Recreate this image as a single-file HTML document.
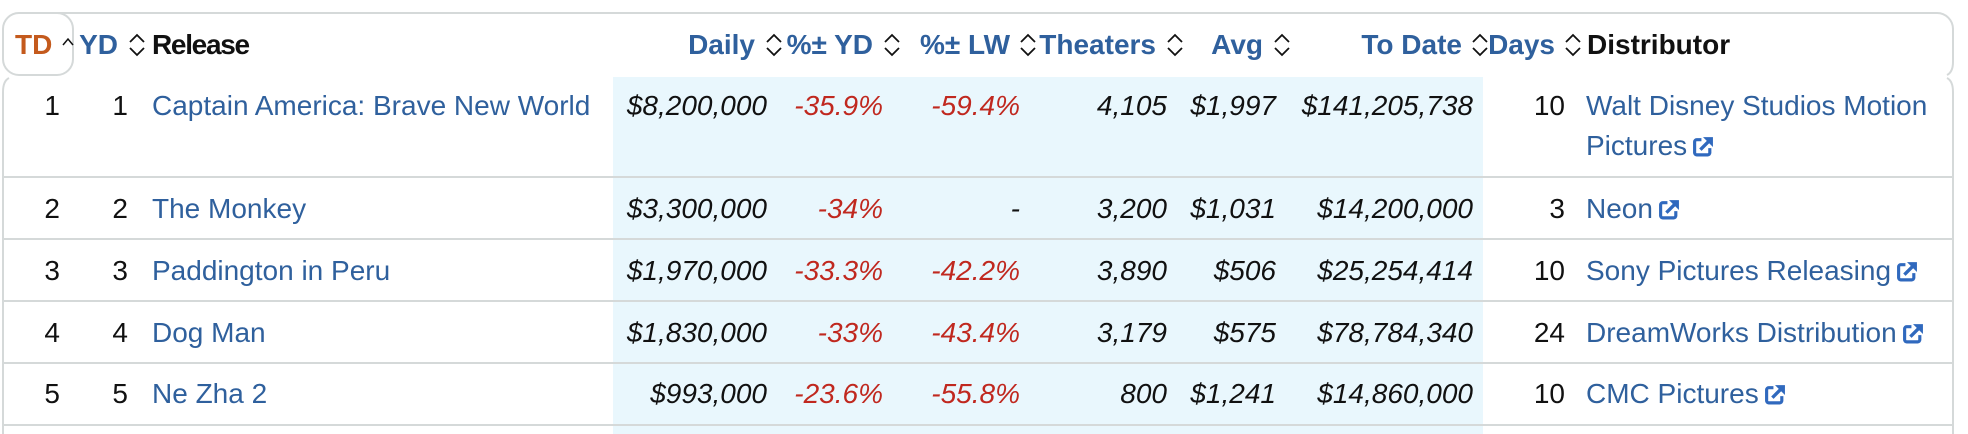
<!DOCTYPE html>
<html>
<head>
<meta charset="utf-8">
<style>
  html, body { margin:0; padding:0; background:#fff; }
  #wrap { position:relative; width:1968px; height:434px; overflow:hidden; background:#fff;
          font-family:"Liberation Sans", Arial, sans-serif; font-size:28px; }
  .t { position:absolute; line-height:40px; height:40px; white-space:nowrap; margin-top:1px; }
  .h { font-weight:bold; color:#2f609d; }
  .hk { font-weight:bold; color:#111; }
  .num { color:#111; }
  .it { font-style:italic; color:#111; }
  .red { font-style:italic; color:#c0281f; }
  .lnk { color:#2f609d; }
  .ext { display:inline-block; width:22px; height:21px; margin-left:5px; vertical-align:-2px; }
</style>
</head>
<body>
<div id="wrap">
  <!-- shaded columns -->
  <div style="position:absolute;left:613px;top:77px;width:870px;height:357px;background:#e9f7fd;"></div>

  <!-- borders -->
  <svg width="1968" height="434" style="position:absolute;left:0;top:0" fill="none" stroke="#d5d9d9" stroke-width="2">
    <path d="M 19 13 H 1937 A 16 16 0 0 1 1953 29 V 62 Q 1953 72 1947 75"/>
    <rect x="3" y="13" width="70" height="62" rx="16" ry="16" fill="#fff"/>
    <path d="M 1947 78 Q 1953 81 1953 92 V 434"/>
    <path d="M 9 78 Q 3 81 3 92 V 434"/>
    <line x1="3" y1="177" x2="1953" y2="177"/>
    <line x1="3" y1="239" x2="1953" y2="239"/>
    <line x1="3" y1="301" x2="1953" y2="301"/>
    <line x1="3" y1="363" x2="1953" y2="363"/>
    <line x1="3" y1="425" x2="1953" y2="425"/>
  </svg>

  <!-- sort icons -->
  <svg width="1968" height="80" style="position:absolute;left:0;top:0" fill="none" stroke="#111" stroke-width="1.8" stroke-linejoin="miter">
    <path d="M 63 45 L 68 39 L 73 45" stroke-width="1.5"/>
    <path d="M 130 42 L 137 35 L 144 42 M 130 48 L 137 55 L 144 48"/>
    <path transform="translate(637 0)" d="M 130 42 L 137 35 L 144 42 M 130 48 L 137 55 L 144 48"/>
    <path transform="translate(755 0)" d="M 130 42 L 137 35 L 144 42 M 130 48 L 137 55 L 144 48"/>
    <path transform="translate(891 0)" d="M 130 42 L 137 35 L 144 42 M 130 48 L 137 55 L 144 48"/>
    <path transform="translate(1038 0)" d="M 130 42 L 137 35 L 144 42 M 130 48 L 137 55 L 144 48"/>
    <path transform="translate(1145 0)" d="M 130 42 L 137 35 L 144 42 M 130 48 L 137 55 L 144 48"/>
    <path transform="translate(1343 0)" d="M 130 42 L 137 35 L 144 42 M 130 48 L 137 55 L 144 48"/>
    <path transform="translate(1436 0)" d="M 130 42 L 137 35 L 144 42 M 130 48 L 137 55 L 144 48"/>
  </svg>

  <!-- header -->
  <div class="t h" style="left:15px;top:24px;color:#c45a1d;">TD</div>
  <div class="t h" style="right:1850px;top:24px;">YD</div>
  <div class="t hk" style="left:152px;top:24px;letter-spacing:-1.3px;">Release</div>
  <div class="t h" style="right:1213px;top:24px;">Daily</div>
  <div class="t h" style="right:1095px;top:24px;">%± YD</div>
  <div class="t h" style="right:958px;top:24px;">%± LW</div>
  <div class="t h" style="right:812px;top:24px;">Theaters</div>
  <div class="t h" style="right:705px;top:24px;">Avg</div>
  <div class="t h" style="right:506px;top:24px;">To Date</div>
  <div class="t h" style="right:413px;top:24px;">Days</div>
  <div class="t hk" style="left:1587px;top:24px;">Distributor</div>

  <!-- row 1 -->
  <div class="t num" style="right:1908px;top:85px;">1</div>
  <div class="t num" style="right:1840px;top:85px;">1</div>
  <div class="t lnk" style="left:152px;top:85px;">Captain America: Brave New World</div>
  <div class="t it" style="right:1201px;top:85px;">$8,200,000</div>
  <div class="t red" style="right:1085px;top:85px;">-35.9%</div>
  <div class="t red" style="right:948px;top:85px;">-59.4%</div>
  <div class="t it" style="right:801px;top:85px;">4,105</div>
  <div class="t it" style="right:692px;top:85px;">$1,997</div>
  <div class="t it" style="right:495px;top:85px;">$141,205,738</div>
  <div class="t num" style="right:403px;top:85px;">10</div>
  <div class="t lnk" style="left:1586px;top:85px;">Walt Disney Studios Motion</div>
  <div class="t lnk" style="left:1586px;top:125px;">Pictures<svg class="ext" viewBox="0 0 21 20"><path d="M9 3.5 H4.5 A2 2 0 0 0 2.5 5.5 V16 A2 2 0 0 0 4.5 18 H15 A2 2 0 0 0 17 16 V11.5" fill="none" stroke="#3069be" stroke-width="3"/><path d="M8 13 L16 5" stroke="#3069be" stroke-width="3.2"/><path d="M10.5 1 H20 V10.5 Z" fill="#3069be"/></svg></div>

  <!-- row 2 -->
  <div class="t num" style="right:1908px;top:188px;">2</div>
  <div class="t num" style="right:1840px;top:188px;">2</div>
  <div class="t lnk" style="left:152px;top:188px;">The Monkey</div>
  <div class="t it" style="right:1201px;top:188px;">$3,300,000</div>
  <div class="t red" style="right:1085px;top:188px;">-34%</div>
  <div class="t it" style="right:948px;top:188px;">-</div>
  <div class="t it" style="right:801px;top:188px;">3,200</div>
  <div class="t it" style="right:692px;top:188px;">$1,031</div>
  <div class="t it" style="right:495px;top:188px;">$14,200,000</div>
  <div class="t num" style="right:403px;top:188px;">3</div>
  <div class="t lnk" style="left:1586px;top:188px;">Neon<svg class="ext" viewBox="0 0 21 20"><path d="M9 3.5 H4.5 A2 2 0 0 0 2.5 5.5 V16 A2 2 0 0 0 4.5 18 H15 A2 2 0 0 0 17 16 V11.5" fill="none" stroke="#3069be" stroke-width="3"/><path d="M8 13 L16 5" stroke="#3069be" stroke-width="3.2"/><path d="M10.5 1 H20 V10.5 Z" fill="#3069be"/></svg></div>

  <!-- row 3 -->
  <div class="t num" style="right:1908px;top:250px;">3</div>
  <div class="t num" style="right:1840px;top:250px;">3</div>
  <div class="t lnk" style="left:152px;top:250px;">Paddington in Peru</div>
  <div class="t it" style="right:1201px;top:250px;">$1,970,000</div>
  <div class="t red" style="right:1085px;top:250px;">-33.3%</div>
  <div class="t red" style="right:948px;top:250px;">-42.2%</div>
  <div class="t it" style="right:801px;top:250px;">3,890</div>
  <div class="t it" style="right:692px;top:250px;">$506</div>
  <div class="t it" style="right:495px;top:250px;">$25,254,414</div>
  <div class="t num" style="right:403px;top:250px;">10</div>
  <div class="t lnk" style="left:1586px;top:250px;">Sony Pictures Releasing<svg class="ext" viewBox="0 0 21 20"><path d="M9 3.5 H4.5 A2 2 0 0 0 2.5 5.5 V16 A2 2 0 0 0 4.5 18 H15 A2 2 0 0 0 17 16 V11.5" fill="none" stroke="#3069be" stroke-width="3"/><path d="M8 13 L16 5" stroke="#3069be" stroke-width="3.2"/><path d="M10.5 1 H20 V10.5 Z" fill="#3069be"/></svg></div>

  <!-- row 4 -->
  <div class="t num" style="right:1908px;top:312px;">4</div>
  <div class="t num" style="right:1840px;top:312px;">4</div>
  <div class="t lnk" style="left:152px;top:312px;">Dog Man</div>
  <div class="t it" style="right:1201px;top:312px;">$1,830,000</div>
  <div class="t red" style="right:1085px;top:312px;">-33%</div>
  <div class="t red" style="right:948px;top:312px;">-43.4%</div>
  <div class="t it" style="right:801px;top:312px;">3,179</div>
  <div class="t it" style="right:692px;top:312px;">$575</div>
  <div class="t it" style="right:495px;top:312px;">$78,784,340</div>
  <div class="t num" style="right:403px;top:312px;">24</div>
  <div class="t lnk" style="left:1586px;top:312px;">DreamWorks Distribution<svg class="ext" viewBox="0 0 21 20"><path d="M9 3.5 H4.5 A2 2 0 0 0 2.5 5.5 V16 A2 2 0 0 0 4.5 18 H15 A2 2 0 0 0 17 16 V11.5" fill="none" stroke="#3069be" stroke-width="3"/><path d="M8 13 L16 5" stroke="#3069be" stroke-width="3.2"/><path d="M10.5 1 H20 V10.5 Z" fill="#3069be"/></svg></div>

  <!-- row 5 -->
  <div class="t num" style="right:1908px;top:373px;">5</div>
  <div class="t num" style="right:1840px;top:373px;">5</div>
  <div class="t lnk" style="left:152px;top:373px;">Ne Zha 2</div>
  <div class="t it" style="right:1201px;top:373px;">$993,000</div>
  <div class="t red" style="right:1085px;top:373px;">-23.6%</div>
  <div class="t red" style="right:948px;top:373px;">-55.8%</div>
  <div class="t it" style="right:801px;top:373px;">800</div>
  <div class="t it" style="right:692px;top:373px;">$1,241</div>
  <div class="t it" style="right:495px;top:373px;">$14,860,000</div>
  <div class="t num" style="right:403px;top:373px;">10</div>
  <div class="t lnk" style="left:1586px;top:373px;">CMC Pictures<svg class="ext" viewBox="0 0 21 20"><path d="M9 3.5 H4.5 A2 2 0 0 0 2.5 5.5 V16 A2 2 0 0 0 4.5 18 H15 A2 2 0 0 0 17 16 V11.5" fill="none" stroke="#3069be" stroke-width="3"/><path d="M8 13 L16 5" stroke="#3069be" stroke-width="3.2"/><path d="M10.5 1 H20 V10.5 Z" fill="#3069be"/></svg></div>
</div>
</body>
</html>
